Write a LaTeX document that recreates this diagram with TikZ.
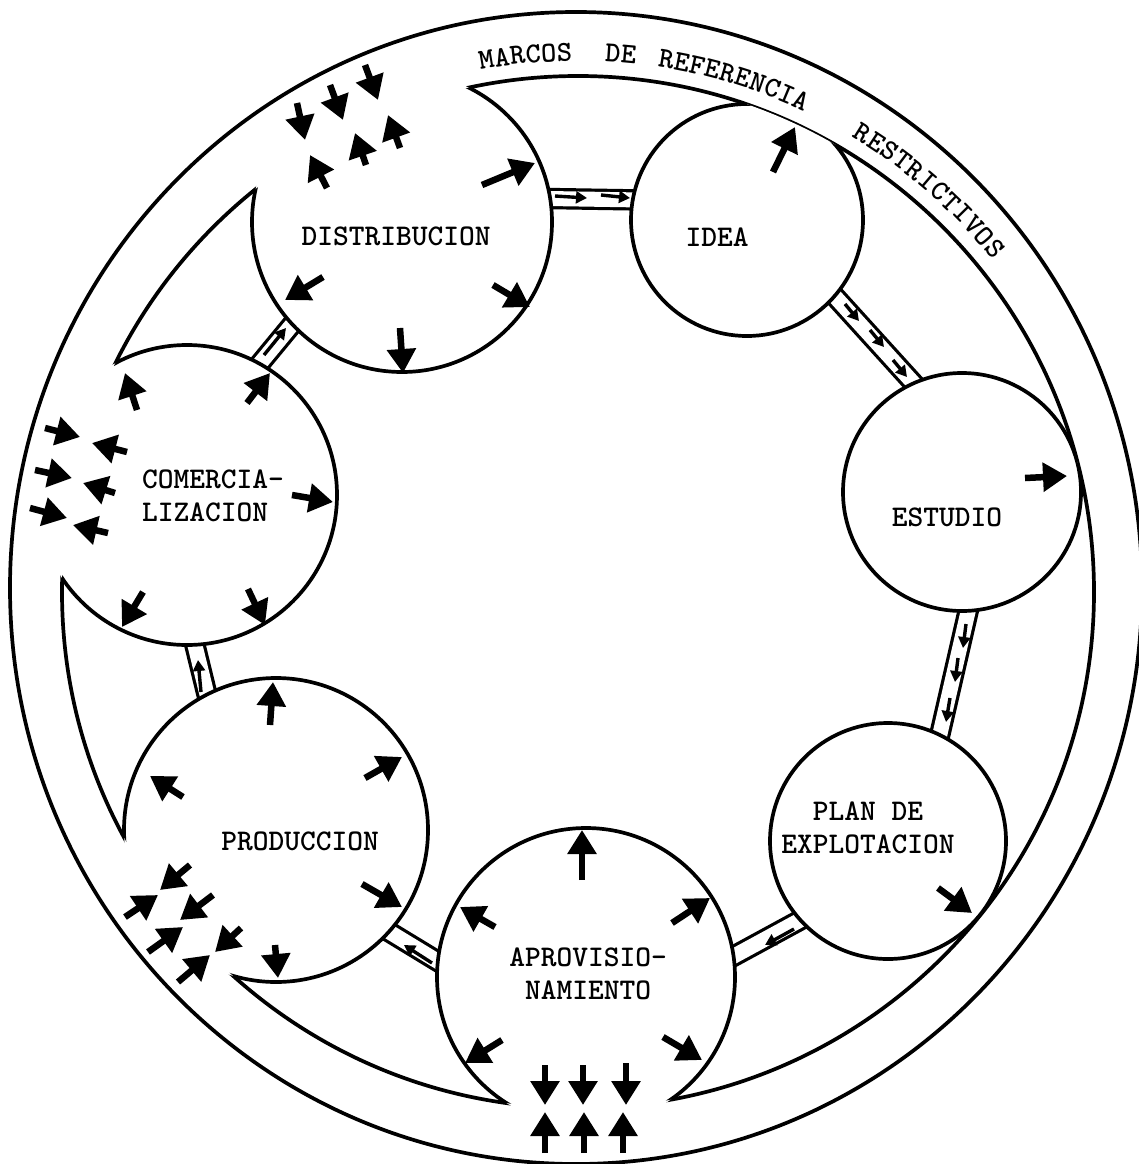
\documentclass[tikz,border=0pt]{standalone}
\usetikzlibrary{arrows.meta,calc}
\newcommand\bandword[4]{% #1 first angle, #2 step per letter, #3 name prefix, #4 letters
  \foreach \ch [count=\k] in {#4} {
    \pgfmathsetmacro\ang{#1+(\k-0.5)*#2}
    \pgfmathsetmacro\rot{-1*(\ang)-90}
    \path (C0) ++(\ang:540) node[bandtext,rotate=\rot] (#3\k) {\ch};
  }}
\begin{document}
\begin{tikzpicture}[x=1pt,y=-1pt,
  rim/.style={line width=3.7pt},
  stage/.style={circle,draw=none,inner sep=0pt,outer sep=0pt,minimum size=#1},
  tube/.style={draw=black,line width=3.2pt,double=white,double distance=15pt,
               shorten <=-14pt,shorten >=-14pt},
  trowel/.style={line width=6.5pt,-{Triangle[length=24pt,width=28pt]}},
  pellet/.style={line width=3.4pt,-{Triangle[length=11pt,width=12pt]}},
  stagetext/.style={font=\ttfamily\bfseries\fontsize{30}{33}\selectfont,align=center,inner sep=0pt},
  bandtext/.style={font=\ttfamily\bfseries\fontsize{29}{30}\selectfont,inner sep=0pt}]

\useasboundingbox (0,0) rectangle (1138,1164);
\fill[white] (0,0) rectangle (1138,1164);

% centres of the band
\coordinate (C0) at (578,592);
\coordinate (C1) at (576,588);

% the seven stages
\node[stage=300pt] (distr)   at (402,222) {};
\node[stage=232pt] (idea)    at (747,220) {};
\node[stage=238pt] (estudio) at (962,492) {};
\node[stage=236pt] (plan)    at (888,841) {};
\node[stage=298pt] (aprov)   at (586,977) {};
\node[stage=304pt] (prod)    at (276,830) {};
\node[stage=300pt] (comerc)  at (187,495) {};

% inner edge of the band
\draw[rim] (C0) circle[radius=516];

% tubes between the stages
\draw[tube] (distr.9)     -- (idea.170);
\draw[tube] (idea.-41)    -- (estudio.114);
\draw[tube] (estudio.-87) -- (plan.64);
\draw[tube] (plan.-138)   -- (aprov.8);
\draw[tube] (aprov.174)   -- (prod.-42);
\draw[tube] (prod.117)    -- (comerc.-87);
\draw[tube] (comerc.61)   -- (distr.-137);

% stages open towards the band: clear them completely
\foreach \n/\r in {distr/150,aprov/149,prod/152,comerc/150}
  {\fill[white] (\n.center) circle[radius=\r];}

\begin{scope}
  \clip (C0) circle[radius=516];
  % stages closed by the band: clear only their inner part
  \foreach \n/\r in {idea/116,estudio/119,plan/118}
    {\fill[white] (\n.center) circle[radius=\r];}
  % all stage outlines
  \foreach \n/\r in {distr/150,idea/116,estudio/119,plan/118,aprov/149,prod/152,comerc/150}
    {\draw[rim] (\n.center) circle[radius=\r];}
\end{scope}

% outer edge of the band
\draw[rim] (C1) ellipse[x radius=566, y radius=576];

% stage names
\node[stagetext] (tdis)  at (396,236) {DISTRIBUCION};
\node[stagetext] (tidea) at (717,237) {IDEA};
\node[stagetext] (test)  at (947,517) {ESTUDIO};
\node[stagetext] (tplan) at (868,828) {PLAN DE\\EXPLOTACION};
\node[stagetext] (tapr)  at (588,974) {APROVISIO-\\NAMIENTO};
\node[stagetext] (tprod) at (300,841) {PRODUCCION};
\node[stagetext,align=left] (tcom) at (213,496) {COMERCIA-\\LIZACION};

% lettering along the band
\bandword{-100.6}{1.666}{wa}{M,A,R,C,O,S}
\bandword{-87.1}{1.666}{wb}{D,E}
\bandword{-81.4}{1.666}{wc}{R,E,F,E,R,E,N,C,I,A}
\bandword{-59.0}{1.70}{wd}{R,E,S,T,R,I,C,T,I,V,O,S}

% flows inside the tubes
\draw[pellet] (555,196) -- (587,198);
\draw[pellet] (601,195) -- (630,198);
\draw[pellet] (845,304) -- (859,321);
\draw[pellet] (870,330) -- (884,347);
\draw[pellet] (893,360) -- (907,377);
\draw[pellet] (966,624) -- (963,648);
\draw[pellet] (958,658) -- (955,682);
\draw[pellet] (950,698) -- (946,722);
\draw[pellet] (794,929) -- (765,945);
\draw[pellet] (432,963) -- (404,945);
\draw[pellet] (201,692) -- (198,660);
\draw[pellet] (264,355) -- (286,328);

% DISTRIBUCION
\draw[trowel] (482,185) -- (535,163);
\draw[trowel] (323,277) -- (285,300);
\draw[trowel] (493,285) -- (530,307);
\draw[trowel] (400,328) -- (403,373);
\draw[trowel] (365,65)  -- (378,100);
\draw[trowel] (330,85)  -- (343,120);
\draw[trowel] (297,103) -- (305,140);
\draw[trowel] (400,148) -- (388,115);
\draw[trowel] (366,165) -- (355,133);
\draw[trowel] (327,188) -- (310,155);

% IDEA, ESTUDIO, PLAN
\draw[trowel] (773,172) -- (795,127);
\draw[trowel] (1025,478) -- (1067,476);
\draw[trowel] (938,888) -- (972,913);

% APROVISIONAMIENTO
\draw[trowel] (582,880) -- (582,830);
\draw[trowel] (495,927) -- (460,907);
\draw[trowel] (672,923) -- (710,898);
\draw[trowel] (502,1040) -- (465,1063);
\draw[trowel] (663,1037) -- (702,1060);
\draw[trowel] (545,1065) -- (545,1105);
\draw[trowel] (583,1065) -- (583,1105);
\draw[trowel] (626,1063) -- (626,1105);
\draw[trowel] (545,1153) -- (545,1112);
\draw[trowel] (584,1153) -- (584,1112);
\draw[trowel] (623,1153) -- (623,1112);

% PRODUCCION
\draw[trowel] (270,725) -- (273,682);
\draw[trowel] (365,778) -- (402,757);
\draw[trowel] (183,797) -- (150,776);
\draw[trowel] (362,884) -- (402,907);
\draw[trowel] (275,945) -- (278,978);
\draw[trowel] (190,865) -- (160,890);
\draw[trowel] (125,917) -- (158,895);
\draw[trowel] (213,895) -- (180,920);
\draw[trowel] (148,952) -- (183,927);
\draw[trowel] (241,928) -- (215,952);
\draw[trowel] (178,982) -- (210,955);

% COMERCIALIZACION
\draw[trowel] (137,410) -- (125,373);
\draw[trowel] (247,403) -- (270,373);
\draw[trowel] (292,495) -- (333,502);
\draw[trowel] (143,592) -- (122,627);
\draw[trowel] (248,589) -- (265,625);
\draw[trowel] (45,428)  -- (80,437);
\draw[trowel] (127,452) -- (92,443);
\draw[trowel] (35,470)  -- (72,478);
\draw[trowel] (115,493) -- (83,483);
\draw[trowel] (30,508)  -- (67,518);
\draw[trowel] (108,533) -- (73,525);
\end{tikzpicture}
\end{document}
